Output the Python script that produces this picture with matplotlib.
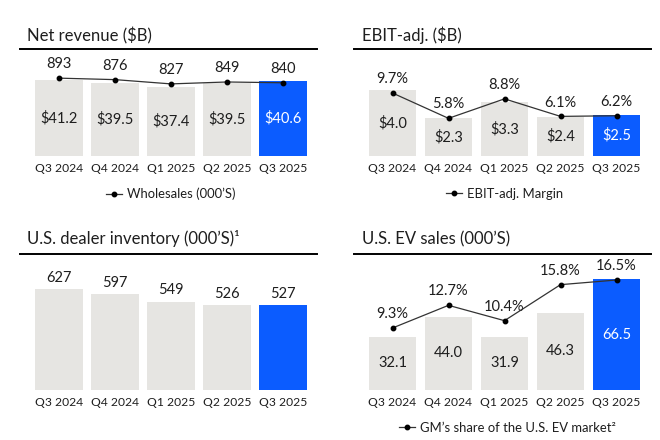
import matplotlib
matplotlib.use("Agg")
import matplotlib.pyplot as plt
from matplotlib.lines import Line2D

plt.rcParams['font.family'] = ['Lato', 'DejaVu Sans']

quarters = ["Q3 2024", "Q4 2024", "Q1 2025", "Q2 2025", "Q3 2025"]

revenue = [41.2, 39.5, 37.4, 39.5, 40.6]
wholesales = [893, 876, 827, 849, 840]

ebit = [4.0, 2.3, 3.3, 2.4, 2.5]
ebit_margin = [9.7, 5.8, 8.8, 6.1, 6.2]

inventory = [627, 597, 549, 526, 527]

ev_sales = [32.1, 44.0, 31.9, 46.3, 66.5]
ev_share = [9.3, 12.7, 10.4, 15.8, 16.5]

GRAY = "#E6E5E2"
BLUE = "#0B5CFF"
INK = "#1E1E1E"

W, H = 660, 440
fig = plt.figure(figsize=(W / 100, H / 100), dpi=100)


def px_rect(left, top, right, bottom):
    return [left / W, 1 - bottom / H, (right - left) / W, (bottom - top) / H]


def header(text, x_text, y_base, x0, x1, y_line):
    fig.text(x_text / W, 1 - y_base / H, text, fontsize=12, color=INK,
             va="baseline", ha="left")
    fig.add_artist(Line2D([x0 / W, x1 / W], [1 - y_line / H, 1 - y_line / H],
                          color="black", lw=1.4))


def bars(ax, values, top, labels, inside=True, prefix="", fmt="{:.1f}"):
    colors = [GRAY] * (len(values) - 1) + [BLUE]
    x = range(len(values))
    ax.bar(x, values, width=0.84, color=colors, zorder=1)
    ax.set_xlim(-0.5, len(values) - 0.5)
    ax.set_ylim(0, top)
    ax.set_xticks(list(x))
    ax.set_xticklabels(labels, fontsize=8.7, color=INK)
    ax.tick_params(axis="x", length=0, pad=5)
    ax.set_yticks([])
    for s in ax.spines.values():
        s.set_visible(False)
    for i, v in enumerate(values):
        txt = prefix + fmt.format(v)
        if inside:
            col = "white" if i == len(values) - 1 else INK
            ax.text(i, v / 2, txt, ha="center", va="center", fontsize=10.5,
                    color=col, zorder=3)
        else:
            ax.annotate(txt, (i, v), xytext=(0, 8), textcoords="offset points",
                        ha="center", va="center", fontsize=10.5, color=INK)


def line(ax, values, top, label, fmt, legend_y, legend_x=0.5):
    tw = ax.twinx()
    tw.set_ylim(0, top)
    tw.set_yticks([])
    for s in tw.spines.values():
        s.set_visible(False)
    h, = tw.plot(range(len(values)), values, color="#333333", lw=0.9,
                 marker="o", markersize=3.2, markerfacecolor="black",
                 markeredgecolor="black", zorder=4, label=label)
    for i, v in enumerate(values):
        tw.annotate(fmt.format(v), (i, v), xytext=(0, 10),
                    textcoords="offset points", ha="center", va="center",
                    fontsize=10.5, color=INK)
    tw.legend(handles=[h], loc="center", bbox_to_anchor=(legend_x, legend_y),
              frameon=False, fontsize=9.4, handlelength=1.2, handletextpad=0.4,
              labelcolor=INK)
    return tw


# Net revenue
ax1 = fig.add_axes(px_rect(31, 56, 311, 156))
bars(ax1, revenue, 54.3, quarters, prefix="$")
line(ax1, wholesales, 1147, "Wholesales (000’S)", "{:d}", -0.38)
header("Net revenue ($B)", 27, 41, 20, 317, 49.5)

# EBIT-adj.
ax2 = fig.add_axes(px_rect(364.5, 56, 644.5, 156))
bars(ax2, ebit, 6.1, quarters, prefix="$")
line(ax2, ebit_margin, 15.4, "EBIT-adj. Margin", "{:.1f}%", -0.38)
header("EBIT-adj. ($B)", 362, 41, 354, 651, 49.5)

# U.S. dealer inventory
ax3 = fig.add_axes(px_rect(31, 270, 311, 390))
bars(ax3, inventory, 745, quarters, inside=False, fmt="{:d}")
header("U.S. dealer inventory (000’S)¹", 27, 244, 20, 317, 254.3)

# U.S. EV sales
ax4 = fig.add_axes(px_rect(364.5, 270, 644.5, 390))
bars(ax4, ev_sales, 72.1, quarters)
line(ax4, ev_share, 18.0, "GM’s share of the U.S. EV market²", "{:.1f}%",
     -0.317, legend_x=0.51)
header("U.S. EV sales (000’S)", 362, 244, 354, 651, 254.3)

fig.savefig("out.png", dpi=100, facecolor="white")
